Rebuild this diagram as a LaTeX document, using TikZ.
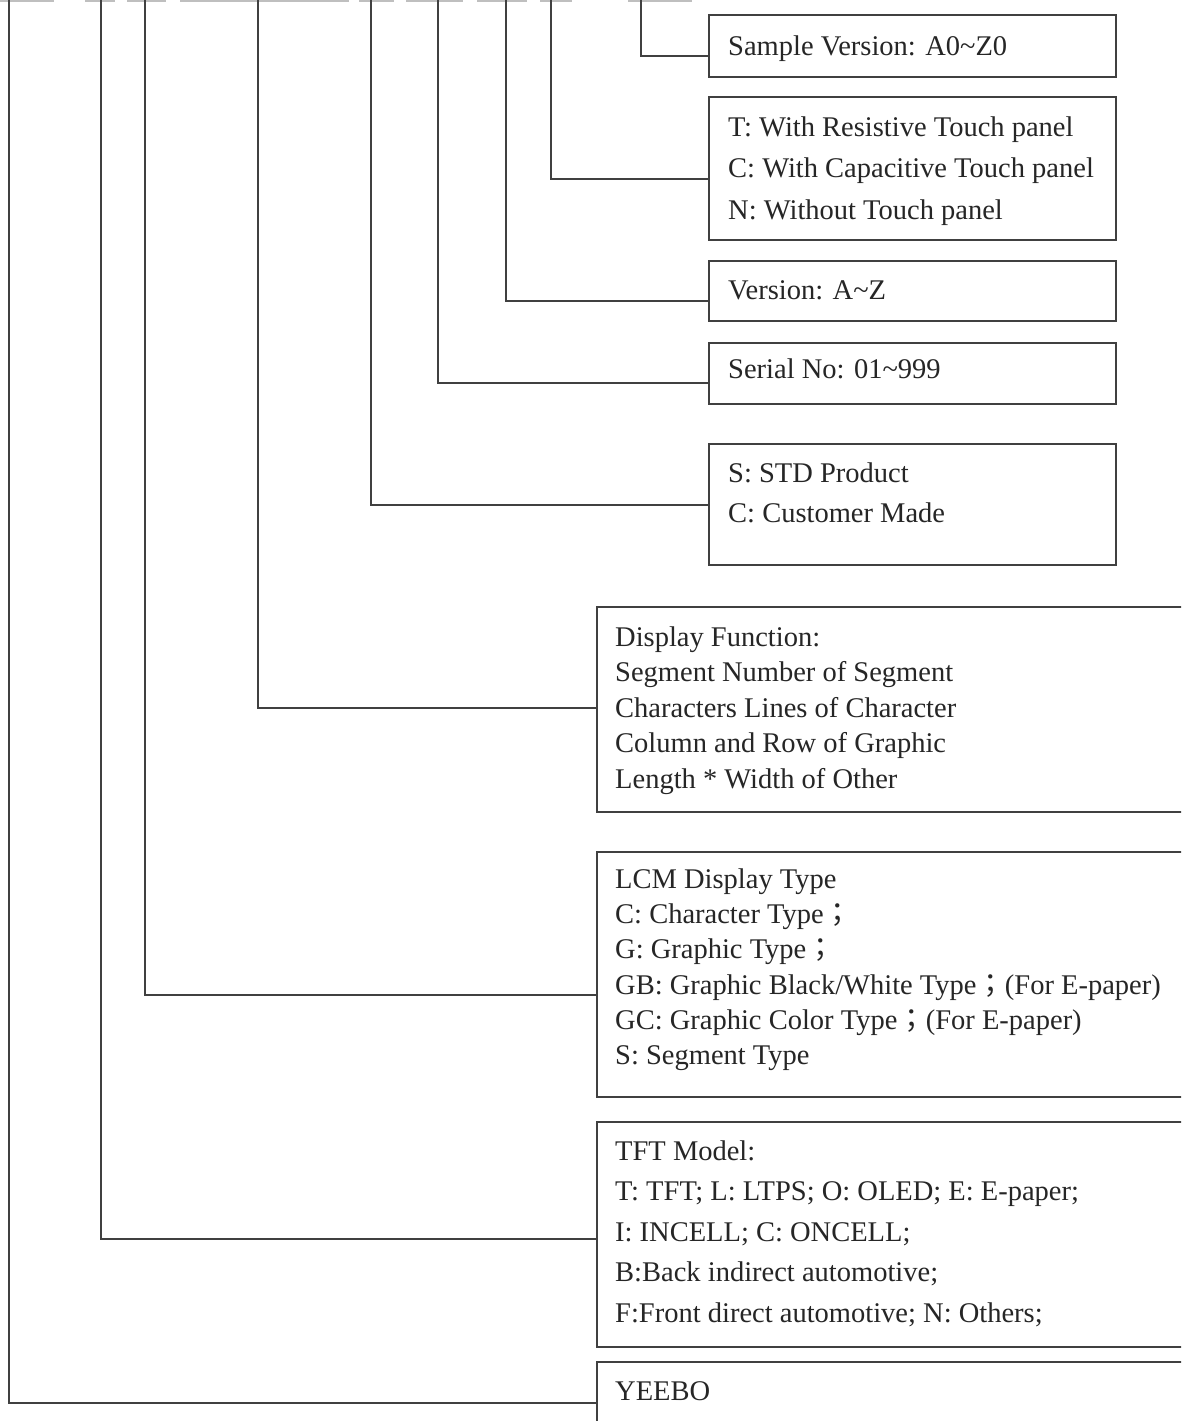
\documentclass[tikz,border=0pt]{standalone}
\usepackage{fontspec}
\setmainfont{Liberation Serif}
\newfontfamily\cjkfont{Noto Sans CJK TC}
\newcommand{\fsemi}{{\cjkfont ；}}

\begin{document}
\begin{tikzpicture}[x=1pt, y=-1pt,
    box/.style={draw=black!75, line width=2pt, fill=white},
    wire/.style={draw=black!75, line width=2pt},
    txt/.style={anchor=north west, inner sep=0pt, align=left, text=black!85},
    cut/.style={draw=black!25, line width=2pt},
    font={\fontsize{28.5}{41.5}\selectfont}]
  \clip (0,0) rectangle (1181,1421);

  % underlines of the part number, cut off at the top
  \draw[cut] (0,1) -- (54,1);
  \draw[cut] (85,1) -- (115,1);
  \draw[cut] (127,1) -- (166,1);
  \draw[cut] (180,1) -- (349,1);
  \draw[cut] (359,1) -- (394,1);
  \draw[cut] (406,1) -- (463,1);
  \draw[cut] (477,1) -- (527,1);
  \draw[cut] (540,1) -- (572,1);
  \draw[cut] (628,1) -- (692,1);

  % top ends of the leads
  \coordinate (psample) at (641,-5);
  \coordinate (ptouch) at (551,-5);
  \coordinate (pversion) at (506,-5);
  \coordinate (pserial) at (438,-5);
  \coordinate (pstd) at (371,-5);
  \coordinate (pfunc) at (258,-5);
  \coordinate (plcm) at (145,-5);
  \coordinate (ptft) at (101,-5);
  \coordinate (pmaker) at (9,-5);

  % boxes
  \node[box, minimum width=407pt, minimum height=62pt] (sample) at (912.5,46) {};
  \node[box, minimum width=407pt, minimum height=143pt] (touch) at (912.5,168.5) {};
  \node[box, minimum width=407pt, minimum height=60pt] (version) at (912.5,291) {};
  \node[box, minimum width=407pt, minimum height=61pt] (serial) at (912.5,373.5) {};
  \node[box, minimum width=407pt, minimum height=121pt] (std) at (912.5,504.5) {};
  \node[box, minimum width=663pt, minimum height=205pt] (func) at (928.5,709.5) {};
  \node[box, minimum width=663pt, minimum height=245pt] (lcm) at (928.5,974.5) {};
  \node[box, minimum width=663pt, minimum height=225pt] (tft) at (928.5,1234.5) {};
  \node[box, minimum width=663pt, minimum height=108pt] (maker) at (928.5,1416) {};

  % texts
  \node[txt] (sampletxt) at (728,35.5) {Sample Version: A0\textasciitilde Z0};
  \node[txt] (touchtxt) at (728,116.5) {T: With Resistive Touch panel\\
    C: With Capacitive Touch panel\\
    N: Without Touch panel};
  \node[txt] (versiontxt) at (728,280.5) {Version: A\textasciitilde Z};
  \node[txt] (serialtxt) at (728,358.5) {Serial No: 01\textasciitilde 999};
  \node[txt, font={\fontsize{28.5}{40}\selectfont}] (stdtxt) at (728,462.5) {S: STD Product\\
    C: Customer Made};
  \node[txt, font={\fontsize{28.5}{35.5}\selectfont}] (functxt) at (615,626.5) {Display Function:\\
    Segment Number of Segment\\
    Characters Lines of Character\\
    Column and Row of Graphic\\
    Length * Width of Other};
  \node[txt, font={\fontsize{28.5}{35.2}\selectfont}] (lcmtxt) at (615,868.5) {LCM Display Type\\
    C: Character Type\fsemi\\
    G: Graphic Type\fsemi\\
    GB: Graphic Black/White Type\fsemi(For E-paper)\\
    GC: Graphic Color Type\fsemi(For E-paper)\\
    S: Segment Type};
  \node[txt, font={\fontsize{28.5}{40.5}\selectfont}] (tfttxt) at (615,1140.5) {TFT Model:\\
    T: TFT; L: LTPS; O: OLED; E: E-paper;\\
    I: INCELL; C: ONCELL;\\
    B:Back indirect automotive;\\
    F:Front direct automotive; N: Others;};
  \node[txt] (makertxt) at (615,1381) {YEEBO};

  % leads
  \draw[wire] (psample) |- (sample.west |- 0,56);
  \draw[wire] (ptouch) |- (touch.west |- 0,179);
  \draw[wire] (pversion) |- (version.west |- 0,301);
  \draw[wire] (pserial) |- (serial.west |- 0,383);
  \draw[wire] (pstd) |- (std.west |- 0,505);
  \draw[wire] (pfunc) |- (func.west |- 0,708);
  \draw[wire] (plcm) |- (lcm.west |- 0,995);
  \draw[wire] (ptft) |- (tft.west |- 0,1239);
  \draw[wire] (pmaker) |- (maker.west |- 0,1403);
\end{tikzpicture}
\end{document}
